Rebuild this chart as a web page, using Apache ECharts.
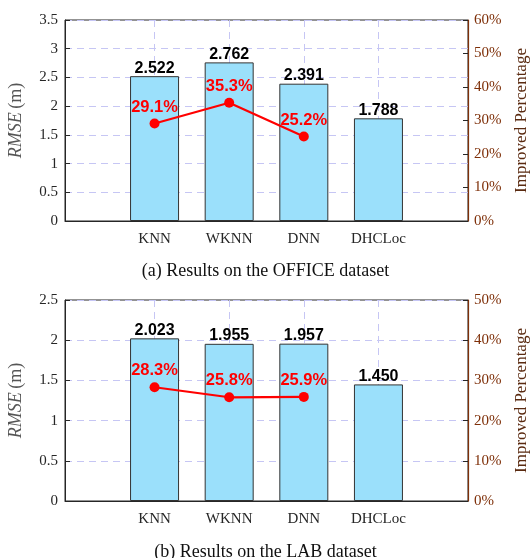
<!DOCTYPE html>
<html><head><meta charset="utf-8">
<script src="https://cdn.jsdelivr.net/npm/echarts@6/dist/echarts.min.js"></script>
<style>html,body{margin:0;padding:0;background:#fff}#c{width:531px;height:558px}</style>
</head><body><div id="c"></div>
<script>
const categories = ['KNN', 'WKNN', 'DNN', 'DHCLoc'];
const officeRMSE = [2.522, 2.762, 2.391, 1.788];
const officeImproved = [29.1, 35.3, 25.2];
const labRMSE = [2.023, 1.955, 1.957, 1.450];
const labImproved = [28.3, 25.8, 25.9];
const officeLeftTicks = { min: 0, max: 3.5, interval: 0.5 };
const officeRightTicks = { min: 0, max: 60, interval: 10 };
const labLeftTicks = { min: 0, max: 2.5, interval: 0.5 };
const labRightTicks = { min: 0, max: 50, interval: 10 };
const captions = ['(a) Results on the OFFICE dataset', '(b) Results on the LAB dataset'];

const serif = 'Liberation Serif';
const sans = 'Liberation Sans';
const gray = '#262626';
const brown = '#7E2F08';
const gridColor = '#c6c6f4';
const positions = categories.map((c, i) => i + 1);

const grids = [
  { left: 65, top: 20, width: 403, height: 201 },
  { left: 65, top: 300, width: 403, height: 201 }
];

function xAxisFor(gi) {
  return {
    type: 'value', gridIndex: gi, min: -0.2, max: 5.2,
    axisLine: { show: true, onZero: false, lineStyle: { color: gray, width: 1 } },
    axisTick: { show: true, inside: true, length: 4, customValues: positions, lineStyle: { color: gray } },
    axisLabel: {
      customValues: positions, margin: 11,
      formatter: v => categories[Math.round(v) - 1] || '',
      fontFamily: serif, fontSize: 15, color: gray
    },
    splitLine: { show: true, lineStyle: { color: gridColor, type: [7, 5], width: 1 } }
  };
}
function leftAxis(gi, t) {
  return {
    type: 'value', gridIndex: gi, position: 'left', min: t.min, max: t.max, interval: t.interval,
    name: '{i|RMSE} {n|(m)}', nameLocation: 'middle', nameGap: 40, nameRotate: 90,
    nameTextStyle: { rich: { i: { fontFamily: serif, fontStyle: 'italic', fontSize: 18, color: '#555' }, n: { fontFamily: serif, fontSize: 18, color: '#555' } } },
    axisLine: { show: true, onZero: false, lineStyle: { color: gray } },
    axisTick: { show: true, inside: true, length: 5, lineStyle: { color: gray } },
    axisLabel: { fontFamily: serif, fontSize: 15, color: gray, margin: 7 },
    splitLine: { show: true, lineStyle: { color: gridColor, type: [7, 5], width: 1 } }
  };
}
function rightAxis(gi, t) {
  return {
    type: 'value', gridIndex: gi, position: 'right', min: t.min, max: t.max, interval: t.interval,
    name: 'Improved Percentage', nameLocation: 'middle', nameGap: 45, nameRotate: 90,
    nameTextStyle: { fontFamily: serif, fontSize: 17, color: '#5a2a10' },
    axisLine: { show: true, onZero: false, lineStyle: { color: brown, width: 1.2 } },
    axisTick: { show: true, inside: true, length: 5, lineStyle: { color: gray } },
    axisLabel: { fontFamily: serif, fontSize: 15, color: brown, margin: 6, formatter: '{value}%' },
    splitLine: { show: false }
  };
}

function seriesFor(gi, rmse, impr) {
  return [
    {
      type: 'bar', xAxisIndex: gi, yAxisIndex: gi * 2, z: 3, barWidth: 49,
      data: rmse.map((v, i) => [positions[i], v]),
      itemStyle: { color: '#9BE0FB', borderColor: '#333', borderWidth: 1 },
      label: {
        show: true, position: 'top', distance: 0,
        formatter: p => p.value[1].toFixed(3),
        fontFamily: sans, fontWeight: 'bold', fontSize: 16, color: '#000'
      }
    },
    {
      type: 'line', xAxisIndex: gi, yAxisIndex: gi * 2 + 1, z: 5,
      data: impr.map((v, i) => [positions[i], v]),
      lineStyle: { color: '#ff0000', width: 2.2 },
      itemStyle: { color: '#ff0000' },
      symbol: 'circle', symbolSize: 10,
      label: {
        show: true, position: 'top', distance: 3,
        formatter: p => p.value[1].toFixed(1) + '%',
        fontFamily: sans, fontWeight: 'bold', fontSize: 16.5, color: '#ff0000'
      }
    }
  ];
}

const chart = echarts.init(document.getElementById('c'), null, { renderer: 'canvas' });
chart.setOption({
  animation: false,
  backgroundColor: '#fff',
  grid: grids.map(g => Object.assign({ show: true, borderColor: gray, borderWidth: 1, backgroundColor: 'transparent', containLabel: false, outerBoundsMode: 'none' }, g)),
  xAxis: [xAxisFor(0), xAxisFor(1)],
  yAxis: [leftAxis(0, officeLeftTicks), rightAxis(0, officeRightTicks), leftAxis(1, labLeftTicks), rightAxis(1, labRightTicks)],
  title: [
    { text: captions[0], left: 'center', top: 257, textStyle: { fontFamily: serif, fontSize: 18, fontWeight: 'normal', color: '#111' } },
    { text: captions[1], left: 'center', top: 538, textStyle: { fontFamily: serif, fontSize: 18, fontWeight: 'normal', color: '#111' } }
  ],
  series: [...seriesFor(0, officeRMSE, officeImproved), ...seriesFor(1, labRMSE, labImproved)]
});
</script></body></html>
